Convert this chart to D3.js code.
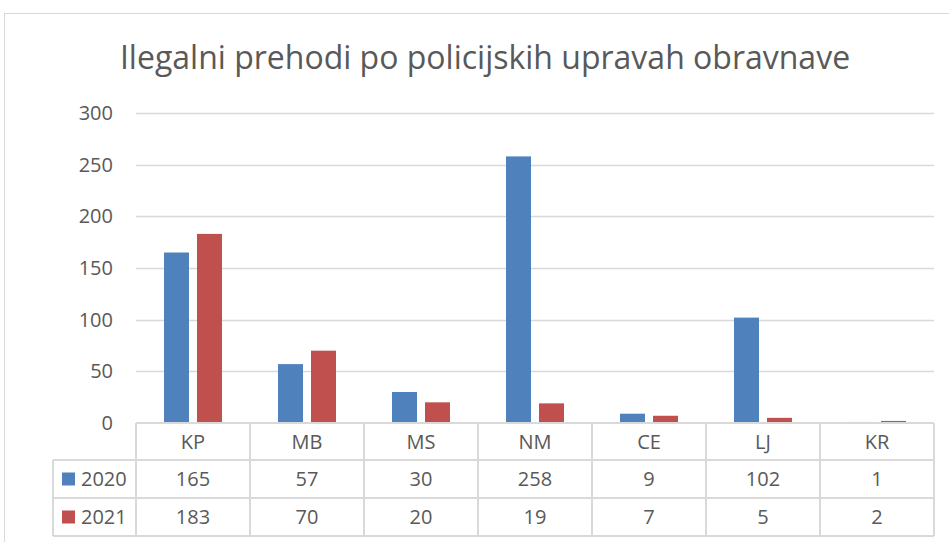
<html>
<head>
<meta charset="utf-8">
<title>Ilegalni prehodi</title>
<script src="https://d3js.org/d3.v7.min.js"></script>
<style>
  body { margin: 0; background: #fff; }
  text { font-family: "Open Sans", Lato, sans-serif; fill: #595959; }
</style>
</head>
<body>
<script>
    var categories = ["KP", "MB", "MS", "NM", "CE", "LJ", "KR"];
    var years = ["2020", "2021"];
    var values2020 = [165, 57, 30, 258, 9, 102, 1];
    var values2021 = [183, 70, 20, 19, 7, 5, 2];
    var yTicks = [0, 50, 100, 150, 200, 250, 300];

    var width = 949,
        height = 542,
        colors = ["#4f81bd", "#c0504d"],
        gridColor = "#d9d9d9";

    var svg = d3.select("body").append("svg")
        .attr("width", width)
        .attr("height", height);

    // chart frame
    svg.append("rect")
        .attr("x", 4.5).attr("y", 13.5)
        .attr("width", 960).attr("height", 560)
        .attr("fill", "#fff")
        .attr("stroke", gridColor);

    svg.append("text")
        .attr("x", 485).attr("y", 69)
        .attr("text-anchor", "middle")
        .style("font-size", "32px")
        .text("Ilegalni prehodi po policijskih upravah obravnave");

    var x = d3.scaleBand().domain(categories).range([136, 934]);
    var y = d3.scaleLinear().domain([0, 300]).range([423, 113]);

    // gridlines
    svg.append("g").selectAll("line").data(yTicks.slice(1)).enter().append("line")
        .attr("x1", 136).attr("x2", 934)
        .attr("y1", function (d) { return Math.round(y(d)) + 0.5; })
        .attr("y2", function (d) { return Math.round(y(d)) + 0.5; })
        .attr("stroke", gridColor).attr("stroke-width", 1.5);

    var yAxis = svg.append("g")
        .attr("transform", "translate(120,0)")
        .call(d3.axisLeft(y).tickValues(yTicks).tickSize(0).tickPadding(6));
    yAxis.select(".domain").remove();
    yAxis.selectAll("text")
        .style("font-size", "20px")
        .style("font-family", "'Open Sans', sans-serif")
        .attr("fill", "#595959")
        .attr("x", -7);

    // bars
    var series = [values2020, values2021];
    var offsets = [-29, 4];
    series.forEach(function (vals, i) {
        svg.append("g").selectAll("rect").data(vals).enter().append("rect")
            .attr("x", function (d, j) { return x(categories[j]) + x.bandwidth() / 2 + offsets[i]; })
            .attr("y", function (d) { return y(d); })
            .attr("width", 25)
            .attr("height", function (d) { return y(0) - y(d); })
            .attr("fill", colors[i]);
    });

    // data table
    var table = svg.append("g");
    var rowY = [423, 460, 498, 536];
    var tableLine = function (x1, y1, x2, y2) {
        table.append("line")
            .attr("x1", x1).attr("y1", y1).attr("x2", x2).attr("y2", y2)
            .attr("stroke", gridColor).attr("stroke-width", 2);
    };
    tableLine(136, rowY[0], 934, rowY[0]);
    tableLine(53, rowY[1], 934, rowY[1]);
    tableLine(53, rowY[2], 934, rowY[2]);
    tableLine(53, rowY[3], 934, rowY[3]);
    tableLine(53, rowY[1], 53, rowY[3]);
    categories.forEach(function (c) {
        tableLine(x(c), rowY[0], x(c), rowY[3]);
    });
    tableLine(934, rowY[0], 934, rowY[3]);

    table.selectAll(".cat").data(categories).enter().append("text")
        .attr("x", function (d) { return x(d) + x.bandwidth() / 2; })
        .attr("y", (rowY[0] + rowY[1]) / 2 + 7)
        .attr("text-anchor", "middle")
        .style("font-size", "20px")
        .text(function (d) { return d; });

    series.forEach(function (vals, i) {
        var cy = (rowY[i + 1] + rowY[i + 2]) / 2;
        table.append("rect")
            .attr("x", 62).attr("y", cy - 6.5)
            .attr("width", 13).attr("height", 13)
            .attr("fill", colors[i]);
        table.append("text")
            .attr("x", 81).attr("y", cy + 7)
            .style("font-size", "20px")
            .text(years[i]);
        table.selectAll(".v" + i).data(vals).enter().append("text")
            .attr("x", function (d, j) { return x(categories[j]) + x.bandwidth() / 2; })
            .attr("y", cy + 7)
            .attr("text-anchor", "middle")
            .style("font-size", "20px")
            .text(function (d) { return d; });
    });
</script>
</body>
</html>
